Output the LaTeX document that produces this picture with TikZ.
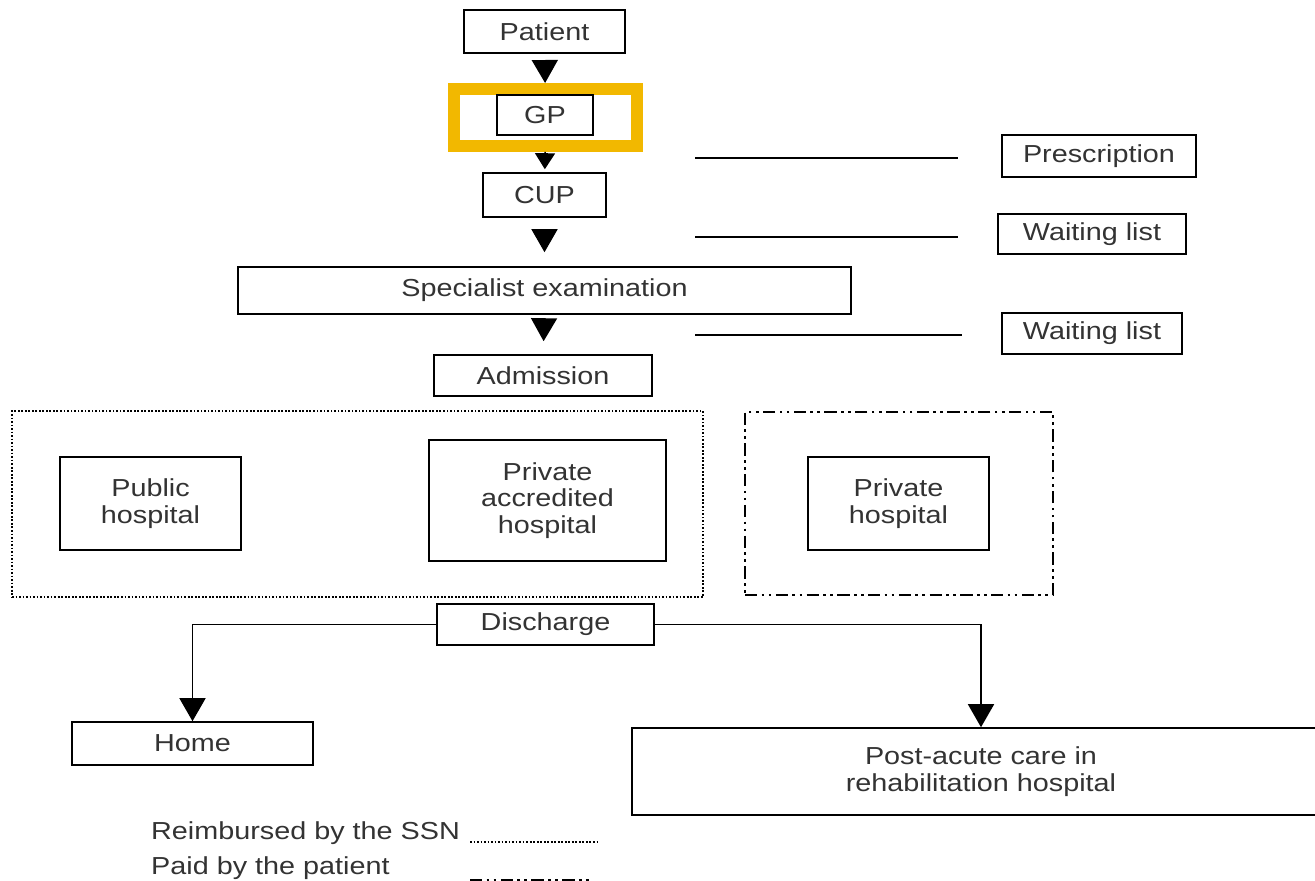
\documentclass[tikz,border=0pt]{standalone}
\usepackage{fontspec}
\setmainfont[FakeStretch=1.17]{Liberation Sans}
\usetikzlibrary{arrows.meta}
\definecolor{gpyellow}{RGB}{242,184,0}
\begin{document}
\begin{tikzpicture}
    [
    x=0.02cm,y=-0.02cm,
    every node/.style={font=\fontsize{14}{15}\selectfont,text=black!80},
    box/.style 2 args={draw,line width=0.9pt,align=center,minimum width=#1,minimum height=#2},
    frame/.style 2 args={draw,line width=1pt,minimum width=#1,minimum height=#2},
    tri/.style={-{Triangle[width=0.52cm,length=0.46cm]},line width=0.9pt},
    rule/.style={line width=0.8pt},
    dashdot/.style={dash pattern=on 7pt off 2.5pt on 1.5pt off 2.5pt on 1.5pt off 2.5pt},
    ]
    \useasboundingbox (0,0) rectangle (1315,881);
    % main path
    \node (patient) at (544.5,31.5) [box={3.22cm}{0.86cm}] {Patient};
    \node (gpframe) at (545.5,117.5) [draw=gpyellow,line width=0.24cm,minimum width=3.66cm,minimum height=1.14cm] {};
    \node (gp) at (545,115) [box={1.92cm}{0.8cm}] {GP};
    \node (cup) at (544.5,195) [box={2.46cm}{0.88cm}] {CUP};
    \node (spec) at (544.5,290.5) [box={12.26cm}{0.94cm}] {Specialist examination};
    \node (adm) at (543,375.5) [box={4.36cm}{0.82cm}] {Admission};
    % hospitals
    \node (ssnbox) at (357.5,504) [frame={13.82cm}{3.72cm},densely dotted] {};
    \node (paidbox) at (899,503.5) [frame={6.16cm}{3.66cm},dashdot] {};
    \node (pub) at (150.5,503.5) [box={3.62cm}{1.86cm}] {Public\\hospital};
    \node (privacc) at (547.5,500.5) [box={4.74cm}{2.42cm}] {Private\\accredited\\hospital};
    \node (priv) at (898.5,503.5) [box={3.62cm}{1.86cm}] {Private\\hospital};
    \node (disc) at (545.5,624.5) [box={4.34cm}{0.82cm}] {Discharge};
    \node (home) at (192.5,743.5) [box={4.82cm}{0.86cm}] {Home};
    \node (post) at (981,771.5) [box={13.96cm}{1.74cm}] {Post-acute care in\\rehabilitation hospital};
    % side boxes
    \node (presc) at (1099,156) [box={3.88cm}{0.84cm}] {Prescription};
    \node (wait1) at (1092,234) [box={3.76cm}{0.8cm}] {Waiting list};
    \node (wait2) at (1092,333.5) [box={3.6cm}{0.82cm}] {Waiting list};
    \coordinate (r1a) at (695,158);
    \coordinate (r1b) at (958,158);
    \coordinate (r2a) at (695,237);
    \coordinate (r2b) at (958,237);
    \coordinate (r3a) at (695,335);
    \coordinate (r3b) at (962,335);
    \draw [rule] (r1a) to (r1b);
    \draw [rule] (r2a) to (r2b);
    \draw [rule] (r3a) to (r3b);
    % arrows
    \draw [tri,shorten <=0.18cm] (patient) to (gpframe);
    \draw [-{Triangle[width=0.4cm,length=0.32cm]},line width=0.9pt,shorten >=0.06cm] (gpframe) to (cup);
    \draw [tri,shorten <=0.26cm,shorten >=0.28cm] (cup) to (spec);
    \draw [tri,shorten <=0.12cm,shorten >=0.26cm] (spec) to (adm);
    \draw [tri] (disc.west) -| (home);
    \draw [tri] (disc.east) -| (post);
    % legend
    \node (ssn) at (145,833) [anchor=west] {Reimbursed by the SSN};
    \node (paid) at (145,868) [anchor=west] {Paid by the patient};
    \coordinate (ssna) at (470,842);
    \coordinate (ssnb) at (598,842);
    \coordinate (paida) at (470,881);
    \coordinate (paidb) at (590,881);
    \draw [densely dotted,line width=1pt] (ssna) to (ssnb);
    \draw [dashdot,line width=2pt] (paida) to (paidb);
  \end{tikzpicture}
\end{document}
